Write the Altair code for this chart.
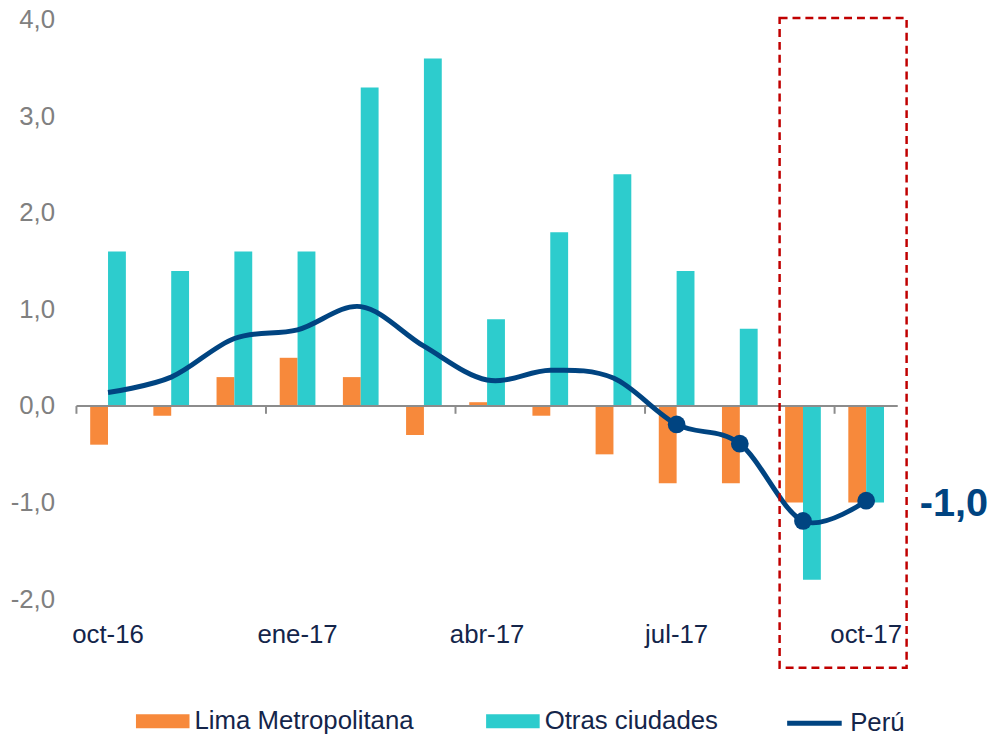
import altair as alt
import pandas as pd

# ---------------- data ----------------
months = ["oct-16", "nov-16", "dic-16", "ene-17", "feb-17", "mar-17", "abr-17",
          "may-17", "jun-17", "jul-17", "ago-17", "sep-17", "oct-17"]
lima = [-0.4, -0.1, 0.3, 0.5, 0.3, -0.3, 0.04, -0.1, -0.5, -0.8, -0.8, -1.0, -1.0]
otras = [1.6, 1.4, 1.6, 1.6, 3.3, 3.6, 0.9, 1.8, 2.4, 1.4, 0.8, -1.8, -1.0]
peru = [0.14, 0.30, 0.70, 0.79, 1.03, 0.62, 0.27, 0.37, 0.29, -0.19, -0.39, -1.19, -0.98]
series = ["Lima Metropolitana", "Otras ciudades"]
line_name = "Perú"
x_labels = ["oct-16", "ene-17", "abr-17", "jul-17", "oct-17"]
marker_months = ["jul-17", "ago-17", "sep-17", "oct-17"]
highlight = ["sep-17", "oct-17"]
y_ticks = [-2, -1, 0, 1, 2, 3, 4]

# ---------------- style ----------------
FONT = "Liberation Sans, Arial, Helvetica, sans-serif"
ORANGE = "#F7893B"
TEAL = "#2DCCCD"
NAVY = "#004481"
TEXT = "#14254A"
GREY = "#808080"
AXIS = "#8C8C8C"
RED = "#C00000"

bars_df = pd.DataFrame({
    "mes": months * 2,
    "serie": [series[0]] * len(months) + [series[1]] * len(months),
    "valor": lima + otras,
})
line_df = pd.DataFrame({"mes": months, "serie": line_name, "valor": peru})
mark_df = line_df[line_df["mes"].isin(marker_months)]
label_df = line_df.tail(1).copy()
label_df["txt"] = label_df["valor"].map(lambda v: f"{round(v, 1):.1f}".replace(".", ","))
ticks_df = pd.DataFrame({"pos": [months.index(m) for m in x_labels]})
rect_df = pd.DataFrame({
    "x0": [months.index(highlight[0]) + 0.13],
    "x1": [months.index(highlight[-1]) + 1.14],
})
zero_df = pd.DataFrame({"v": [0]})

band = alt.Scale(domain=months, paddingInner=0.435, paddingOuter=0.2175)
qx = alt.Scale(domain=[0, len(months)], nice=False, zero=False)
yscale = alt.Scale(domain=[-2, 4], nice=False, zero=False)

x_axis = alt.Axis(values=x_labels, domain=False, ticks=False, labelAngle=0,
                  labelFontSize=26, labelFont=FONT, labelColor=TEXT,
                  labelPadding=23, title=None, grid=False)
y_axis = alt.Axis(values=y_ticks,
                  labelExpr="replace(replace(format(datum.value, '.1f'), '.', ','), '\u2212', '-')",
                  domain=False, ticks=False, grid=False, labelFontSize=26,
                  labelFont=FONT, labelColor=GREY, labelPadding=22, title=None)

bars = alt.Chart(bars_df).mark_bar().encode(
    x=alt.X("mes:N", sort=months, scale=band, axis=x_axis),
    xOffset=alt.XOffset("serie:N", sort=series,
                        scale=alt.Scale(domain=series, paddingInner=0, paddingOuter=0)),
    y=alt.Y("valor:Q", scale=yscale, axis=y_axis),
    color=alt.Color("serie:N", scale=alt.Scale(domain=series, range=[ORANGE, TEAL]),
                    legend=alt.Legend(title=None, orient="none", legendX=60, legendY=680,
                                      direction="horizontal",
                                      symbolType="M-1,-0.26H1V0.26H-1Z", symbolSize=2916,
                                      symbolStrokeWidth=0, symbolOpacity=1,
                                      labelFontSize=26, labelFont=FONT, labelColor=TEXT,
                                      labelOffset=5, columnPadding=72, padding=0,
                                      labelLimit=500)),
)

zero = alt.Chart(zero_df).mark_rule(color=AXIS, strokeWidth=2).encode(y=alt.datum(0))

ticks = alt.Chart(ticks_df).mark_rule(color=AXIS, strokeWidth=2).encode(
    x=alt.X("pos:Q", scale=qx, axis=None),
    y=alt.datum(0),
    y2=alt.datum(-0.08),
)

line = alt.Chart(line_df).mark_line(interpolate="cardinal", strokeWidth=5).encode(
    x=alt.X("mes:N", sort=months, scale=band, axis=None),
    y=alt.Y("valor:Q"),
    stroke=alt.Stroke("serie:N", scale=alt.Scale(domain=[line_name], range=[NAVY]),
                      legend=alt.Legend(title=None, orient="none", legendX=714, legendY=679,
                                        symbolType="stroke", symbolSize=3025,
                                        symbolStrokeWidth=5, labelFontSize=26,
                                        labelFont=FONT, labelColor=TEXT, labelOffset=6,
                                        padding=0)),
)

markers = alt.Chart(mark_df).mark_circle(size=320, opacity=1, color=NAVY).encode(
    x=alt.X("mes:N", sort=months, scale=band, axis=None),
    y=alt.Y("valor:Q"),
)

label = alt.Chart(label_df).mark_text(align="left", baseline="middle", dx=54, dy=3,
                                      fontSize=40, fontWeight="bold", color=NAVY,
                                      font=FONT).encode(
    x=alt.X("mes:N", sort=months, scale=band, axis=None),
    y=alt.Y("valor:Q"),
    text="txt:N",
)

rect = alt.Chart(rect_df).mark_rect(fillOpacity=0, stroke=RED, strokeWidth=2.5,
                                    strokeDash=[8, 5]).encode(
    x=alt.X("x0:Q", scale=qx, axis=None),
    x2="x1:Q",
    y=alt.datum(4.02),
    y2=alt.datum(-2.71),
)

chart = alt.layer(bars, zero, ticks, line, markers, label, rect).resolve_scale(
    x="independent"
).properties(
    width=828, height=584,
    padding={"left": 69, "top": 9, "right": 93, "bottom": 137},
    autosize=alt.AutoSizeParams(type="none"),
    background="white",
).configure_view(stroke=None)

chart.save("out.html", embed_options={"renderer": "svg", "actions": False})
